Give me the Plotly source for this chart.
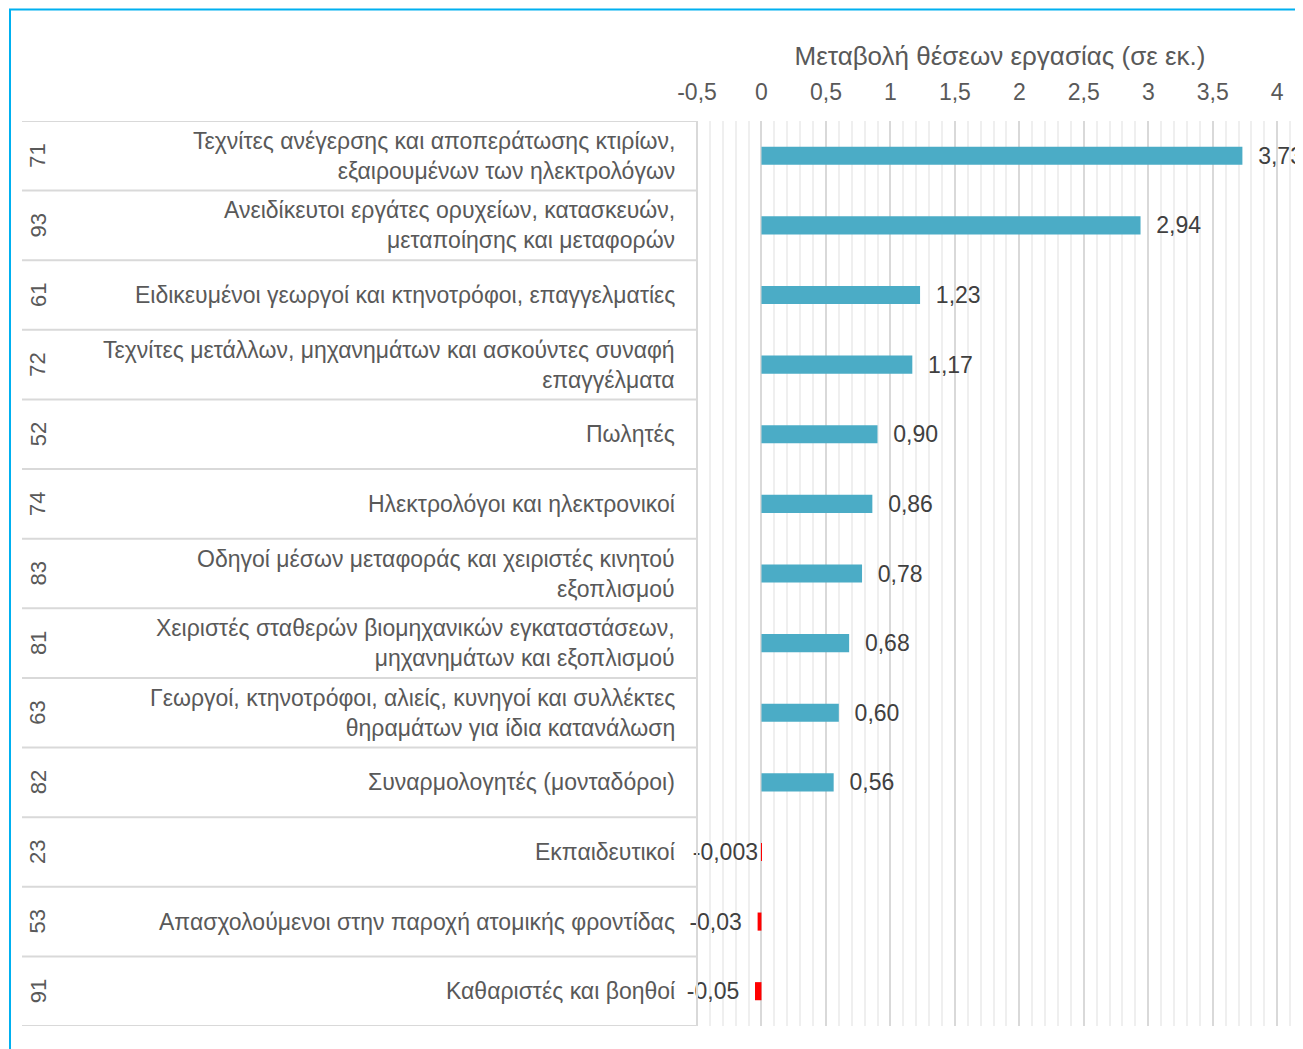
import plotly.graph_objects as go

# the page puts the figure 8px in from the top-left corner
OFF = 8
W, H = 1303 - OFF, 1049 - OFF

# data (top to bottom)
codes = ["71", "93", "61", "72", "52", "74", "83", "81", "63", "82", "23", "53", "91"]
names = [
    "Τεχνίτες ανέγερσης και αποπεράτωσης κτιρίων,<br>εξαιρουμένων των ηλεκτρολόγων",
    "Ανειδίκευτοι εργάτες ορυχείων, κατασκευών,<br>μεταποίησης και μεταφορών",
    "Ειδικευμένοι γεωργοί και κτηνοτρόφοι, επαγγελματίες",
    "Τεχνίτες μετάλλων, μηχανημάτων και ασκούντες συναφή<br>επαγγέλματα",
    "Πωλητές",
    "Ηλεκτρολόγοι και ηλεκτρονικοί",
    "Οδηγοί μέσων μεταφοράς και χειριστές κινητού<br>εξοπλισμού",
    "Χειριστές σταθερών βιομηχανικών εγκαταστάσεων,<br>μηχανημάτων και εξοπλισμού",
    "Γεωργοί, κτηνοτρόφοι, αλιείς, κυνηγοί και συλλέκτες<br>θηραμάτων για ίδια κατανάλωση",
    "Συναρμολογητές (μονταδόροι)",
    "Εκπαιδευτικοί",
    "Απασχολούμενοι στην παροχή ατομικής φροντίδας",
    "Καθαριστές και βοηθοί",
]
values = [3.73, 2.94, 1.23, 1.17, 0.90, 0.86, 0.78, 0.68, 0.60, 0.56, -0.003, -0.03, -0.05]
labels = ["3,73", "2,94", "1,23", "1,17", "0,90", "0,86", "0,78", "0,68", "0,60", "0,56",
          "-0,003", "-0,03", "-0,05"]
tick_vals = [-0.5, 0, 0.5, 1, 1.5, 2, 2.5, 3, 3.5, 4]
tick_text = ["-0,5", "0", "0,5", "1", "1,5", "2", "2,5", "3", "3,5", "4"]

rows = list(range(len(values)))
bar_colors = ["#4BACC6" if v >= 0 else "#FF0000" for v in values]
bar_text = [("  " + t) if v >= 0 else (t + "  " if v < -0.01 else t)
            for t, v in zip(labels, values)]

FONT = "Liberation Sans, Arial, sans-serif"
GREY = "#595959"


def px(x):
    return (x - OFF) / W


def py(y):
    return 1 - (y - OFF) / H


x_left = px(697)
y_top = py(121)
y_bot = py(1026)

fig = go.Figure(go.Bar(
    x=values, y=rows, orientation="h",
    marker=dict(color=bar_colors, line=dict(width=0)),
    width=0.26,
    text=bar_text, textposition="outside", cliponaxis=False,
    constraintext="none",
    textfont=dict(size=23, color="#404040", family=FONT),
    hoverinfo="skip",
))

shapes = []
# row separators in the label area
for i in range(len(rows) + 1):
    shapes.append(dict(type="line", xref="paper", yref="y",
                       x0=px(22), x1=x_left, y0=i - 0.5, y1=i - 0.5,
                       line=dict(color="#D9D9D9", width=2)))
shapes.append(dict(type="line", xref="paper", yref="paper",
                   x0=x_left, x1=x_left, y0=y_bot, y1=y_top,
                   line=dict(color="#D9D9D9", width=2)))
# outer frame
shapes.append(dict(type="rect", xref="paper", yref="paper",
                   x0=px(10), x1=1.02, y0=-0.02, y1=py(9.5),
                   line=dict(color="#00B0F0", width=2), layer="below"))

annotations = []
for r, c, n in zip(rows, codes, names):
    annotations.append(dict(xref="paper", yref="y", x=px(38), y=r, text=c,
                            textangle=-90, xanchor="center", yanchor="middle",
                            showarrow=False,
                            font=dict(size=22, color=GREY, family=FONT)))
    annotations.append(dict(xref="paper", yref="y", x=px(677), y=r, text=n,
                            xanchor="right", align="right", showarrow=False,
                            font=dict(size=23, color=GREY, family=FONT)))

fig.update_layout(
    width=W, height=H,
    margin=dict(l=0, r=0, t=0, b=0, autoexpand=False),
    paper_bgcolor="white", plot_bgcolor="white",
    separators=",.",
    showlegend=False,
    font=dict(family=FONT, color=GREY),
    shapes=shapes,
    annotations=annotations,
    xaxis=dict(
        domain=[x_left, 1.0], side="top",
        range=[-0.5, 4.2], tickvals=tick_vals, ticktext=tick_text,
        showgrid=True, gridcolor="#D9D9D9", gridwidth=2,
        minor=dict(dtick=0.1, tick0=0, showgrid=True, gridcolor="#EFEFEF", gridwidth=2),
        zeroline=False, showline=False,
        ticks="outside", ticklen=11, tickcolor="rgba(0,0,0,0)",
        tickfont=dict(size=23, color=GREY, family=FONT),
        title=dict(text="Μεταβολή θέσεων εργασίας (σε εκ.)", standoff=5,
                   font=dict(size=26, color=GREY, family=FONT)),
    ),
    yaxis=dict(
        domain=[y_bot, y_top], range=[len(rows) - 0.5, -0.5],
        showticklabels=False, showgrid=False, zeroline=False, ticks="",
    ),
)

fig.write_html("out.html")
